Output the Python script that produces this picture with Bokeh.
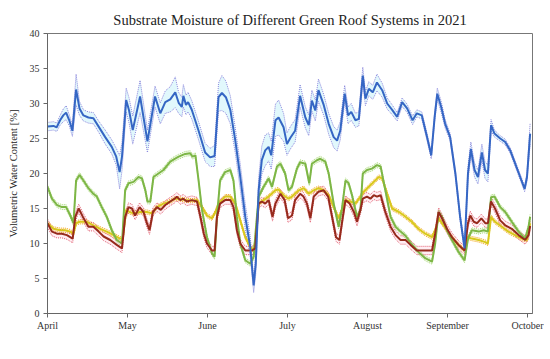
import numpy as np
from bokeh.plotting import figure
from bokeh.models import Range1d, FixedTicker, Legend, LegendItem
from bokeh.embed import file_html
from bokeh.resources import INLINE

# ---- axis ticks ----
month_ticks = [0, 30.5, 61, 91.5, 122, 152.5, 183]
month_labels = ["April", "May", "June", "July", "August", "September", "October"]
y_ticks = [0, 5, 10, 15, 20, 25, 30, 35, 40]

# ---- Retention Roof (days since 1 April) ----
ret_day = [0, 2.3, 3.5, 4.8, 6, 7.1, 8.3, 9.5, 10.9, 12.2,
           13.7, 15.6, 17.5, 19.5, 22, 24.5, 26.2, 27.5, 28.4, 30,
           31.1, 32.5, 35.3, 38.1, 41, 43, 44.9, 46.8, 48.7, 50,
           51.2, 51.8, 52.8, 53.6, 55, 57.6, 60.1, 62, 63.7, 65.2,
           66.5, 68, 69.7, 71.6, 73.5, 75.4, 77.3, 78.6, 79.4, 80.5,
           81.7, 83, 84.3, 85.3, 86.9, 88.1, 90, 91.3, 92.6, 94.4,
           96.3, 98.3, 99.6, 100.8, 102.1, 103.3, 105.3, 107.2, 109.1, 110.4,
           111.6, 113.3, 114.6, 115.8, 117.4, 118.7, 120.2, 121.2, 122.5, 124,
           125.6, 127.6, 129.5, 131.4, 133.3, 135.2, 137.1, 139.2, 140.8, 142.7,
           144.7, 146.3, 147.6, 148.6, 150.1, 151.6, 153.5, 155.5, 157.3, 159,
           160.3, 161.4, 162.8, 164.1, 165.6, 166.8, 167.9, 169.1, 170.4, 172.6,
           174.5, 176.4, 178.3, 180.2, 181.9, 182.8, 184]
ret_val = [26.7, 26.8, 26.6, 27.6, 28.3, 28.7, 27.6, 26.1, 32.0, 29.3,
           28.3, 28.0, 27.9, 26.7, 25.2, 23.8, 22.4, 20.2, 22.4, 30.5,
           29.0, 26.2, 31.0, 24.6, 31.0, 28.6, 30.2, 30.6, 31.6, 30.1,
           29.5, 31.1, 29.8, 30.2, 29.1, 26.1, 23.0, 22.3, 22.5, 30.9,
           31.5, 30.9, 29.1, 24.7, 19.5, 13.8, 9.5, 4.0, 7.1, 17.6,
           21.9, 23.3, 23.8, 22.6, 27.6, 28.0, 26.6, 24.2, 25.1, 26.1,
           31.1, 28.0, 26.9, 30.4, 29.0, 31.9, 29.8, 27.1, 25.2, 24.7,
           26.1, 31.4, 28.3, 28.8, 27.6, 27.8, 34.0, 30.7, 32.1, 31.6,
           33.0, 31.9, 30.0, 29.1, 28.1, 30.2, 29.3, 27.6, 28.6, 28.3,
           25.2, 22.6, 28.1, 31.4, 29.5, 27.1, 25.2, 20.0, 13.8, 9.3,
           20.0, 23.5, 20.5, 19.5, 23.0, 20.5, 20.0, 26.9, 25.7, 25.0,
           24.5, 23.3, 21.4, 19.5, 17.8, 19.5, 25.7]
ret_sd = [0.6, 0.6, 0.6, 0.7, 0.9, 1.0, 0.8, 0.8, 2.2, 1.0,
          0.8, 0.8, 0.8, 0.8, 1.0, 1.0, 1.2, 2.4, 2.0, 1.7,
          1.8, 2.0, 2.3, 1.6, 1.5, 1.5, 1.6, 1.8, 2.2, 1.5,
          1.4, 1.6, 1.4, 1.4, 1.3, 1.3, 1.3, 1.3, 1.5, 2.0,
          2.5, 2.3, 2.0, 1.8, 1.8, 1.8, 1.5, 1.0, 1.5, 1.8,
          2.0, 2.2, 2.0, 2.0, 2.3, 2.5, 2.0, 1.6, 1.6, 1.6,
          1.6, 1.5, 1.5, 1.5, 1.5, 1.6, 1.5, 1.5, 1.5, 1.5,
          1.3, 1.2, 1.2, 1.2, 1.0, 1.0, 1.2, 1.0, 1.0, 1.0,
          1.2, 1.0, 0.8, 0.7, 0.6, 0.6, 0.6, 0.6, 0.5, 0.5,
          0.5, 0.5, 0.6, 0.8, 0.8, 0.6, 0.5, 0.5, 0.5, 0.5,
          1.0, 1.0, 1.0, 1.0, 1.2, 1.2, 1.2, 0.8, 0.5, 0.4,
          0.4, 0.4, 0.4, 0.4, 0.4, 0.6, 1.5]

# ---- Nature Roof ----
nat_day = [0, 1.7, 3.6, 5.5, 7.1, 8.7, 9.9, 10.9, 12.2, 13.7, 15.6, 17.5, 18.8, 20.7, 22.6,
           24.5, 26.4, 28.4, 29.6, 30.9, 32.8, 34.7, 36, 37.3, 38.1, 39.2, 40.4, 42.3, 44.2,
           46.8, 48.5, 50, 52.5, 54.4, 55.3, 56.4, 57.6, 58.9, 60.8, 62.7, 63.7, 64.6, 65.8,
           67.7, 69.7, 70.9, 72.2, 73.5, 75.4, 77.3, 78.6, 79.4, 80.5, 82.4, 84.3, 85.6, 87.5,
           88.8, 90.6, 91.9, 93.2, 95.1, 96.3, 98.3, 99.8, 100.8, 102.7, 104, 105.9, 107.2,
           109.1, 111, 112.2, 113.6, 114.8, 116.1, 118, 119.3, 120.2, 121.8, 123.7, 125.6, 127,
           128.8, 130.8, 132.7, 134.6, 136.5, 138.6, 141.4, 144, 146.6, 147.8, 149.1, 150.4,
           152.3, 154.2, 156.7, 159, 160.3, 161.8, 164.4, 166.3, 167.9, 169.1, 170.4, 172.6,
           174.5, 177, 179.6, 182.1, 183.4, 184]
nat_val = [18.1, 16.4, 15.5, 15.2, 15.2, 14.0, 12.9, 19.0, 19.8, 19.0, 17.9, 17.1, 16.7, 15.2, 13.8,
           11.9, 10.5, 10.0, 17.6, 18.6, 18.8, 19.5, 19.3, 17.6, 16.0, 16.0, 19.5, 20.0, 20.5,
           21.7, 22.1, 22.4, 22.8, 22.9, 22.4, 22.6, 19.0, 14.8, 10.9, 8.6, 8.1, 13.8, 19.0,
           20.2, 20.5, 19.0, 13.8, 10.0, 7.6, 7.1, 8.1, 11.9, 16.7, 18.1, 19.3, 18.1, 21.0,
           21.4, 20.0, 17.6, 18.1, 20.7, 21.6, 21.4, 18.6, 21.4, 21.9, 22.1, 21.7, 20.0,
           15.7, 12.4, 14.8, 19.0, 18.6, 16.9, 13.8, 14.8, 20.0, 20.5, 20.7, 21.2, 21.0,
           17.6, 13.8, 12.4, 11.7, 11.1, 10.0, 8.8, 7.9, 7.4, 10.0, 14.5, 13.8,
           11.9, 10.5, 8.8, 7.6, 10.7, 11.9, 11.7, 11.9, 11.7, 16.6, 16.7, 15.2,
           14.5, 13.1, 11.7, 10.7, 12.4, 13.8]
nat_sd = 0.35

# ---- Garden Roof ----
gar_day = [0, 2.3, 4.8, 6.7, 8.7, 9.9, 10.9, 12.2, 15, 17.5, 20.1, 22.6, 25.2, 27.7, 28.7, 30,
           31.3, 32.8, 35.3, 37.9, 39.8, 41.7, 44.2, 46.8, 48.5, 50, 52.5, 55, 57, 58.9, 60.8,
           62.7, 64, 65.2, 67.7, 69.7, 71.6, 73.5, 75.4, 77.3, 78.6, 79.4, 80.5, 82.4, 84.3,
           86.9, 88.1, 90, 91.9, 93.2, 95.8, 97.7, 99.6, 101.5, 103.3, 105.3, 107.2, 109.1,
           111, 112.2, 113.6, 115.5, 117.4, 119.3, 120.6, 122.5, 124.4, 126.3, 127.6, 129.5,
           131.4, 134, 135.9, 138.9, 141.4, 144, 146.6, 147.8, 149.1, 151, 153.5, 156.1, 159,
           160.3, 161.8, 164.4, 166.9, 167.9, 169.1, 170.6, 173.2, 175.7, 178.3, 180.8, 182.8, 184]
gar_val = [12.9, 12.1, 11.9, 11.9, 11.7, 11.4, 12.9, 13.1, 13.1, 12.6, 12.1, 11.7, 11.2, 10.7, 10.7, 14.8,
           14.5, 14.3, 14.5, 14.5, 14.3, 15.2, 15.7, 16.0, 16.4, 16.4, 16.2, 16.1, 16.2, 15.2, 14.0,
           13.6, 14.5, 15.7, 16.7, 16.7, 15.7, 13.3, 10.9, 9.5, 9.0, 10.9, 15.7, 16.2, 16.7,
           17.6, 17.7, 16.9, 16.4, 16.7, 17.6, 17.9, 17.1, 17.6, 17.9, 17.6, 16.9, 15.2,
           13.6, 14.8, 16.2, 16.0, 15.7, 16.7, 17.4, 18.1, 18.8, 19.5, 19.3, 17.1,
           15.0, 14.5, 14.0, 13.1, 12.1, 11.4, 10.9, 11.9, 13.6, 12.6, 11.2, 10.0, 9.0,
           10.9, 10.7, 10.5, 10.2, 10.0, 13.8, 13.1, 12.4, 11.7, 11.2, 10.7, 10.5, 12.9]
gar_sd = 0.3

# ---- Economy Roof ----
eco_day = [0, 1.7, 3.6, 5.5, 7.4, 9.6, 10.6, 11.9, 13.5, 15.6, 17.5, 19.5, 21.4, 23.9, 26.4, 28.4,
           29.6, 30.9, 32.2, 33.4, 35.1, 36.6, 37.9, 38.9, 40.2, 41.7, 43.2, 44.9, 46.8, 48.5,
           49.3, 50.6, 51.8, 53.1, 55, 57, 58.3, 59.6, 60.8, 62.7, 63.7, 64.6, 65.8, 67.7, 69.7,
           70.9, 72.2, 73.5, 75.4, 78, 79.2, 80.5, 81.7, 83, 84.3, 85.8, 86.9, 88.8, 90.4, 91.7,
           93.2, 94.4, 96.3, 97.6, 98.9, 100.2, 101.5, 103.3, 105.3, 107, 108.5, 110, 111.3,
           112.6, 113.6, 115.2, 116.8, 118, 119.3, 120.2, 121.8, 123.1, 124.4, 125.6, 127,
           128.8, 130.8, 132.7, 134.6, 136.5, 138.4, 140.8, 146.6, 147.8, 149.1, 150.4, 152.3,
           154.2, 156.7, 159, 160.3, 161.2, 162.5, 163.8, 165.4, 166.9, 167.9, 169.1, 170.6,
           172.6, 174.5, 177, 179.6, 182.1, 183.4, 184]
eco_val = [12.9, 11.7, 11.4, 11.4, 11.2, 10.7, 13.8, 15.0, 13.8, 12.4, 12.4, 11.7, 11.0, 10.5, 9.8, 9.3,
           13.8, 15.2, 15.0, 14.0, 15.2, 14.5, 12.9, 11.9, 14.5, 15.2, 14.8, 15.5, 16.0, 16.4,
           16.7, 16.2, 16.4, 16.0, 16.2, 16.0, 13.8, 11.4, 10.0, 9.0, 9.0, 13.8, 15.7, 16.2, 16.2,
           15.2, 11.9, 10.0, 9.0, 9.0, 9.3, 15.7, 16.0, 15.7, 16.2, 13.8, 15.7, 17.1, 16.2, 13.6,
           14.0, 16.2, 17.1, 16.7, 15.7, 13.6, 16.7, 17.4, 17.6, 16.7, 13.8, 10.9, 10.5,
           13.8, 16.2, 15.7, 14.5, 13.1, 14.8, 16.4, 16.7, 16.4, 16.9, 16.7, 16.9,
           14.5, 12.4, 11.2, 10.5, 10.5, 9.8, 9.0, 9.0, 11.4, 14.5, 13.6, 12.1,
           10.9, 9.8, 9.0, 12.9, 14.0, 13.1, 12.9, 13.6, 12.9, 12.9, 16.0, 15.0,
           13.3, 12.6, 12.1, 11.2, 10.5, 11.2, 12.5]
eco_sd = 0.6

series_names = ["Garden Roof", "Nature Roof", "Economy Roof", "Retention Roof"]
line_colors = ["#d8c81c", "#7db646", "#962a1c", "#3566c4"]
sd_colors = ["#f0a020", "#a8d878", "#e06070", "#8c86dc"]
fill_colors = ["#fff4b0", "#e2f4d0", "#ffdce8", "#c4f2fa"]

font = "Liberation Serif"

p = figure(width=544, height=355, frame_width=485, frame_height=280,
           x_range=Range1d(0, 184.9), y_range=Range1d(0, 40),
           output_backend="svg", toolbar_location=None,
           min_border_left=47, min_border_right=12, min_border_top=33, min_border_bottom=0,
           title="Substrate Moisture of Different Green Roof Systems in 2021")

p.title.align = "center"
p.title.text_font = font
p.title.text_font_size = "14.5px"
p.title.text_font_style = "normal"
p.title.text_color = "#222222"
p.title.standoff = 11

p.xgrid.visible = False
p.ygrid.visible = False
p.outline_line_color = "#777777"
p.background_fill_color = "white"

p.xaxis.ticker = FixedTicker(ticks=month_ticks)
p.xaxis.major_label_overrides = {t: l for t, l in zip(month_ticks, month_labels)}
p.yaxis.ticker = FixedTicker(ticks=y_ticks)
p.yaxis.axis_label = "Volumetric Water Content [%]"
for ax in (p.xaxis[0], p.yaxis[0]):
    ax.major_label_text_font = font
    ax.major_label_text_font_size = "10px"
    ax.major_label_text_color = "#333333"
    ax.axis_line_color = "#666666"
    ax.major_tick_line_color = "#666666"
    ax.major_tick_in = 0
    ax.major_tick_out = 4
    ax.minor_tick_line_color = None
p.yaxis.axis_label_text_font = font
p.yaxis.axis_label_text_font_size = "10.5px"
p.yaxis.axis_label_text_font_style = "normal"
p.yaxis.axis_label_text_color = "#222222"
p.yaxis.axis_label_standoff = 8
p.yaxis.major_label_standoff = 4
p.xaxis.major_label_standoff = 2
p.xaxis.axis_label = None
p.xaxis.axis_label_standoff = 0

data = [(gar_day, gar_val, gar_sd), (nat_day, nat_val, nat_sd),
        (eco_day, eco_val, eco_sd), (ret_day, ret_val, ret_sd)]

# SD shading
for (d, v, s), fc in zip(data, fill_colors):
    v = np.array(v); s = np.array(s) * np.ones_like(v)
    p.varea(x=d, y1=v - s, y2=v + s, fill_color=fc, fill_alpha=0.5)

# SD dotted lines
for (d, v, s), sc in zip(data, sd_colors):
    v = np.array(v); s = np.array(s) * np.ones_like(v)
    p.line(d, v + s, line_color=sc, line_width=1, line_dash="1 1")
    p.line(d, v - s, line_color=sc, line_width=1, line_dash="1 1")

renderers = []
for (d, v, s), lc in zip(data, line_colors):
    r = p.line(d, v, line_color=lc, line_width=2)
    renderers.append(r)

sd_legend = p.line([], [], line_color="#5a6a9a", line_width=1, line_dash="1 1")

items = [LegendItem(label=n, renderers=[r]) for n, r in zip(series_names, renderers)]
items.append(LegendItem(label="± SD", renderers=[sd_legend]))
legend = Legend(items=items, orientation="horizontal", location="center",
                border_line_color=None, background_fill_alpha=0,
                label_text_font=font, label_text_font_size="10px",
                label_text_color="#222222",
                glyph_width=21, glyph_height=10, label_standoff=2, spacing=12,
                padding=0, margin=2, label_height=12)
p.add_layout(legend, "below")

open("out.html", "w").write(file_html(p, INLINE))
